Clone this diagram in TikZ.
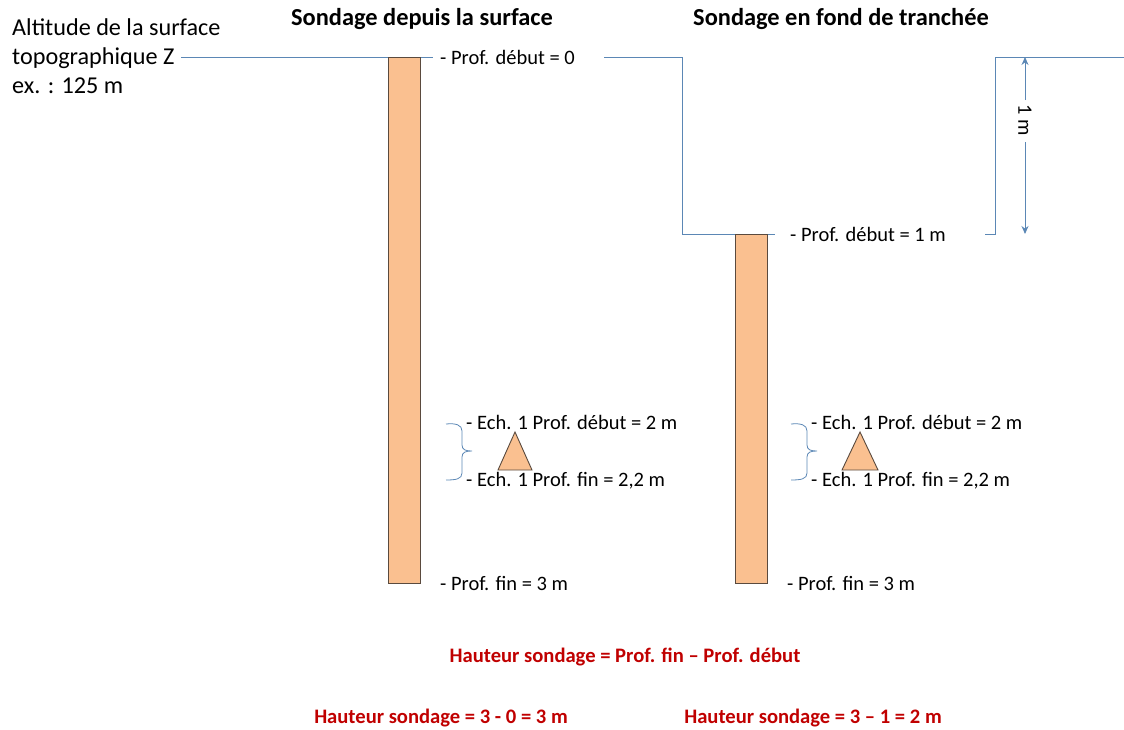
\documentclass[tikz,border=0pt]{standalone}
\usepackage{fontspec}
\setmainfont{Carlito}
\usetikzlibrary{arrows.meta}
\begin{document}
\begin{tikzpicture}[x=1pt,y=-1pt,
  gline/.style={draw=lineblue,line width=1pt},
  bore/.style={draw=boreedge,fill=borefill,line width=0.9pt},
  lbl/.style={anchor=west,inner sep=0pt,font=\fontsize{20.5}{22}\selectfont},
  ttl/.style={anchor=center,inner sep=0pt,font=\fontsize{24.4}{26}\selectfont\bfseries},
  red/.style={anchor=center,inner sep=0pt,text=redtxt,font=\fontsize{20.6}{22}\selectfont\bfseries}]
\definecolor{lineblue}{HTML}{5B87B5}
\definecolor{borefill}{HTML}{FAC090}
\definecolor{boreedge}{HTML}{5A4A3E}
\definecolor{redtxt}{HTML}{C00000}
\useasboundingbox (0,0) rectangle (1124,729);
% left label
\node[anchor=west,inner sep=0pt,align=left,font=\fontsize{24.2}{29}\selectfont] (alt) at (12,56)
  {Altitude de la surface\\topographique Z\\ex. : 125 m};
\node[ttl] (t1) at (422,19) {Sondage depuis la surface};
\node[ttl] (t2) at (841,19) {Sondage en fond de tranchée};
% surface lines
\coordinate (s1a) at (181,57);
\coordinate (s1b) at (433,57);
\draw[gline] (s1a) -- (s1b);
\coordinate (s2a) at (604,57);
\coordinate (s2b) at (682,57);
\coordinate (s2c) at (682,234);
\coordinate (s2d) at (775,234);
\draw[gline] (s2a) -- (s2b) -- (s2c) -- (s2d);
\coordinate (s3a) at (985,234);
\coordinate (s3b) at (995,234);
\coordinate (s3c) at (995,57);
\coordinate (s3d) at (1124,57);
\draw[gline] (s3a) -- (s3b) -- (s3c) -- (s3d);
% boreholes
\node[bore,minimum width=32pt,minimum height=526pt,inner sep=0pt,anchor=north west] (b1) at (388,57) {};
\node[bore,minimum width=32pt,minimum height=349pt,inner sep=0pt,anchor=north west] (b2) at (735,234) {};
% labels
\node[lbl] (p1) at (440,57) {- Prof. début = 0};
\node[lbl] (p2) at (790,234) {- Prof. début = 1 m};
\node[lbl] (f1) at (440,583) {- Prof. fin = 3 m};
\node[lbl] (f2) at (787,583) {- Prof. fin = 3 m};
\node[lbl] (e1a) at (466,422) {- Ech. 1 Prof. début = 2 m};
\node[lbl] (e1b) at (466,481) {- Ech. 1 Prof. fin = 2,2 m};
\node[lbl] (e2a) at (811,422) {- Ech. 1 Prof. début = 2 m};
\node[lbl] (e2b) at (811,481) {- Ech. 1 Prof. fin = 2,2 m};
% braces
\draw[lineblue,line width=0.8pt] (446,424) .. controls (456,423) and (462,425) .. (462,431) -- (462,445)
  .. controls (462,450) and (466,451) .. (472,451) .. controls (466,451) and (462,452) .. (462,457) -- (462,473)
  .. controls (462,479) and (456,480) .. (446,480);
\draw[lineblue,line width=0.8pt] (791,424) .. controls (801,423) and (807,425) .. (807,431) -- (807,445)
  .. controls (807,450) and (811,451) .. (817,451) .. controls (811,451) and (807,452) .. (807,457) -- (807,473)
  .. controls (807,479) and (801,480) .. (791,480);
% triangles
\draw[bore] (515,432) -- (532,470) -- (498,470) -- cycle;
\draw[bore] (860,432) -- (878,470) -- (842,470) -- cycle;
% dimension
\coordinate (d1) at (1025,57);
\coordinate (d2) at (1025,234);
\node[rotate=-90,inner sep=0pt,font=\fontsize{20.5}{22}\selectfont] (dm) at (1025,120) {1 m};
\draw[lineblue,line width=1pt,-{Stealth[length=8pt,width=7pt]}] (1025,100) -- (d1);
\draw[lineblue,line width=1pt,-{Stealth[length=8pt,width=7pt]}] (1025,142) -- (d2);
% red formulas
\node[red] (h0) at (625,657) {Hauteur sondage = Prof. fin – Prof. début};
\node[red] (h1) at (441,718) {Hauteur sondage = 3 - 0 = 3 m};
\node[red] (h2) at (813,718) {Hauteur sondage = 3 – 1 = 2 m};
\end{tikzpicture}
\end{document}
